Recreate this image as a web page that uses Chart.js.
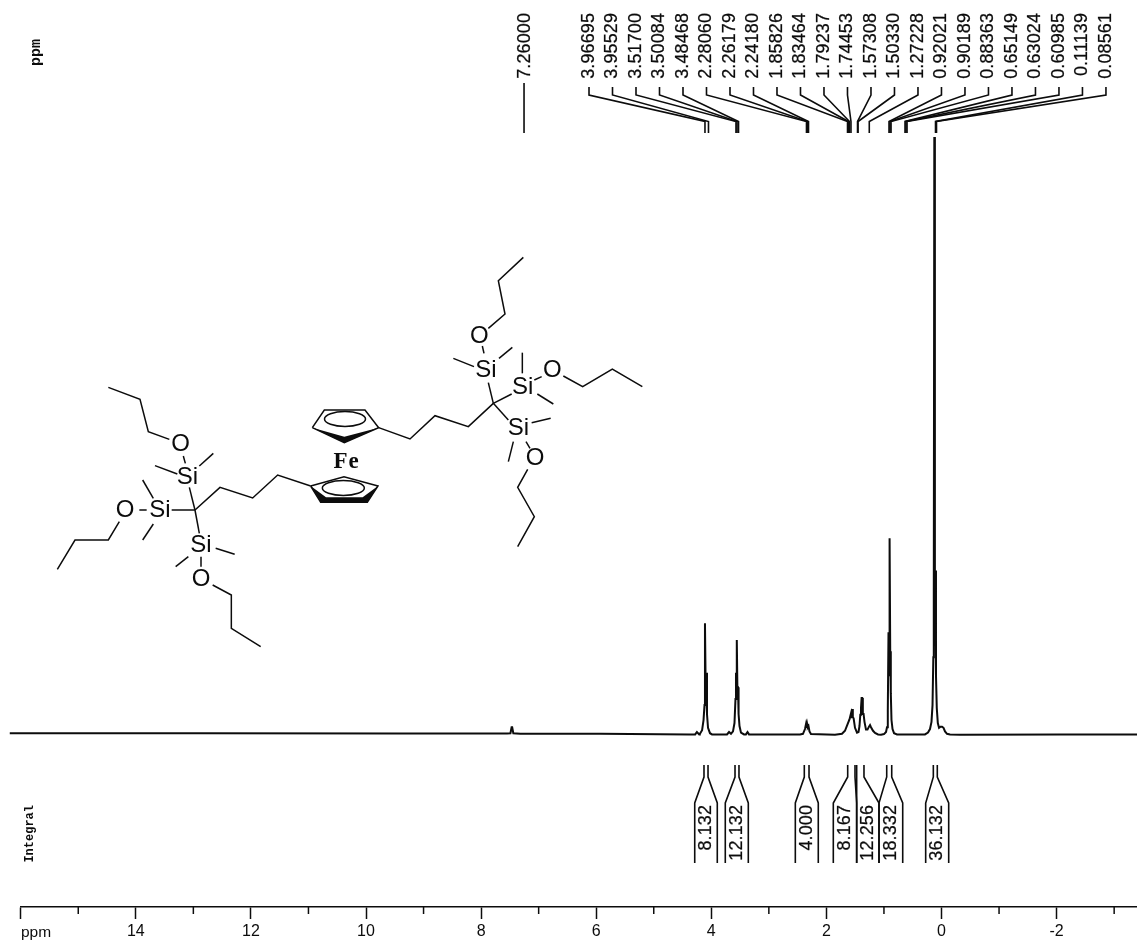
<!DOCTYPE html>
<html>
<head>
<meta charset="utf-8">
<style>html,body{margin:0;padding:0;background:#fff;overflow:hidden}canvas{display:block}</style>
<script src="https://cdn.jsdelivr.net/npm/chart.js@4"></script>
</head>
<body>
<canvas id="c" width="1137" height="941"></canvas>
<script>
// Spectrum: chemical shift axis position (ppm) and intensity (tallest peak = 100)
const spectrumPpm = [16.19,12.88,9.41,7.55,7.49,7.47,7.46,7.45,7.44,7.32,5.93,4.37,4.28,4.25,4.21,4.20,4.16,4.135,4.118,4.110,4.099,4.089,4.075,4.057,4.023,3.988,
  3.762,3.727,3.692,3.658,3.623,3.597,3.580,3.571,3.564,3.557,3.547,3.536,3.526,3.510,3.484,3.432,3.398,3.371,3.345,
  2.806,2.459,2.407,2.372,2.354,2.344,2.334,2.323,2.311,2.294,2.268,
  1.851,1.729,1.677,1.625,1.599,1.573,1.564,1.555,1.541,1.527,1.503,1.468,1.442,1.425,1.411,1.399,1.388,1.378,1.367,1.354,1.338,1.312,1.286,1.260,1.242,1.225,1.190,1.155,1.103,1.051,
  0.999,0.964,0.947,0.933,0.921,0.912,0.902,0.891,0.881,0.869,0.851,0.825,0.773,0.547,0.287,
  0.235,0.200,0.174,0.156,0.142,0.134,0.125,0.115,0.106,0.096,0.082,0.064,0.043,0.017,-0.009,-0.035,-0.061,-0.096,-0.148,-0.321,-2.06,-3.40];
const spectrumIntensity = [0.3,0.3,0.25,0.25,0.3,1.3,1.3,1.3,0.3,0.2,0.2,0.1,0.1,0.5,0.1,0.15,0.8,2.5,5,18.7,9,10.4,3.5,1.2,0.3,0.1,
  0.1,0.1,0.5,0.2,0.6,2,6,10.4,6,15.9,8,8,3.5,1.5,0.4,0.1,0.1,0.5,0.1,
  0.1,0.1,0.2,1.0,1.84,1.2,1.84,1.3,1.5,0.6,0.15,
  0.05,0.2,0.7,2,2.6,3.6,2.8,4.35,3,2.8,1.2,0.4,0.5,1.5,3.4,4.5,6.2,6.2,3.5,3.5,2.2,0.9,0.9,1.4,1.67,1.3,0.7,0.35,0.1,0.05,
  0.15,0.5,1.3,4,17.2,10,32.9,14,7,2.5,1,0.3,0.1,0.1,0.1,
  0.4,1,2.2,5,13,24.5,100,24,27.5,10,4.5,2,1.2,1.4,1.4,1.2,0.6,0.2,0.1,0.05,0.1,0.1];

// Peak list printed above the spectrum, and where each leader lands on the axis
const solventLabel = "7.26000";
const solventStemPpm = 7.254;
const peakLabels = ["3.96695","3.95529","3.51700","3.50084","3.48468","2.28060","2.26179","2.24180","1.85826","1.83464","1.79237","1.74453","1.57308","1.50330","1.27228","0.92021","0.90189","0.88363","0.65149","0.63024","0.60985","0.11139","0.08561"];
const peakStemPpm = [4.110,4.049,3.571,3.553,3.527,2.346,2.328,2.311,1.633,1.616,1.599,1.573,1.459,1.450,1.255,0.912,0.895,0.877,0.634,0.617,0.599,0.104,0.087];

// Integral regions
const integralLabels = ["8.132","12.132","4.000","8.167","12.256","18.332","36.132"];
const integralInnerLeft = [4.127,3.588,2.384,1.630,1.474,0.952,0.142];
const integralInnerRight = [4.057,3.519,2.302,1.503,1.347,0.865,0.073];
const integralOuterLeft = [4.288,3.757,2.540,1.880,1.474,1.086,0.275];
const integralOuterRight = [3.896,3.357,2.141,1.474,1.086,0.674,-0.125];

// Axis range
const axisMaxPpm = 16;
const axisMinPpm = -3.397;

const INK = '#0c0c0c';
const PX_PER_UNIT = 5.98, BASE_Y = 735;
const yVal = py => (BASE_Y - py) / PX_PER_UNIT;

const SLOT_START = 6.125, SLOT_STEP = 0.4083;
const slotPpm = i => SLOT_START - i * SLOT_STEP;

const datasets = [];
datasets.push({
  data: spectrumPpm.map((x,i)=>({x, y: spectrumIntensity[i]})),
  borderColor: INK, borderWidth: 2, pointRadius: 0, tension: 0, clip: false
});
const thin = pts => ({data: pts, borderColor: INK, borderWidth: 1.6, pointRadius: 0, tension: 0, clip: false, borderJoinStyle:'miter'});
datasets.push(thin([{x:solventStemPpm,y:yVal(83)},{x:solventStemPpm,y:yVal(133)}]));
peakLabels.forEach((_,i)=>{
  const s = slotPpm(i), p = peakStemPpm[i];
  datasets.push(thin([{x:s,y:yVal(87)},{x:s,y:yVal(95)},{x:p,y:yVal(121.5)},{x:p,y:yVal(133)}]));
});
integralLabels.forEach((_,i)=>{
  [[integralInnerLeft,integralOuterLeft],[integralInnerRight,integralOuterRight]].forEach(([inn,out])=>{
    datasets.push(thin([{x:inn[i],y:yVal(765)},{x:inn[i],y:yVal(777)},{x:out[i],y:yVal(803)},{x:out[i],y:yVal(863)}]));
  });
});

function rotText(ctx, txt, x, y, font, align, spacing, weight){
  ctx.save();
  ctx.translate(x,y);
  ctx.rotate(-Math.PI/2);
  ctx.font = font;
  ctx.fillStyle = INK;
  ctx.strokeStyle = INK;
  ctx.textAlign = align;
  ctx.textBaseline = 'middle';
  ctx.letterSpacing = (spacing||0)+'px';
  ctx.fillText(txt,0,0);
  if (weight){ ctx.lineWidth = weight; ctx.strokeText(txt,0,0); }
  ctx.restore();
}

// Molecular structure inset, in sketch coordinates
function drawStructure(ctx){
  const L = (X,Y)=>[40+X/3, 370+Y/3];
  const R = (X,Y)=>[300+X/3, 240+Y/3];
  const path = (T, pts)=>{ctx.beginPath();pts.forEach((p,i)=>{const q=T(p[0],p[1]); i?ctx.lineTo(q[0],q[1]):ctx.moveTo(q[0],q[1]);});ctx.stroke();};
  const atom = (T,t,X,Y)=>{const q=T(X,Y);ctx.fillText(t,q[0],q[1]);};
  ctx.save();
  ctx.strokeStyle = INK; ctx.fillStyle = INK; ctx.lineWidth = 1.5; ctx.lineJoin='miter';
  const leftLines = [
    [[205,52],[300,88],[325,185],[388,208]],[[430,258],[436,280]],[[345,287],[412,312]],[[520,250],[478,288]],[[448,352],[465,420]],
    [[465,420],[540,352],[638,384],[713,315],[812,348]],[[395,420],[465,420]],[[298,420],[320,420]],[[308,330],[340,385]],[[308,510],[340,462]],
    [[238,455],[205,510],[105,510],[52,598]],[[465,420],[478,490]],[[527,535],[584,553]],[[407,590],[445,560]],[[483,560],[483,590]],
    [[518,645],[574,675],[574,775],[662,830]]
  ];
  const rightLines = [
    [[236,563],[330,597],[405,527],[505,560],[580,490]],[[580,490],[565,428]],[[460,355],[522,380]],[[637,322],[597,355]],[[552,340],[547,318]],
    [[565,265],[615,222],[595,122],[670,52]],[[580,490],[635,462]],[[667,338],[667,400]],[[712,462],[760,492]],[[703,420],[725,410]],
    [[790,408],[848,440],[937,387],[1027,440]],[[580,490],[625,540]],[[695,548],[752,535]],[[640,605],[625,665]],[[678,605],[690,625]],
    [[683,688],[653,742],[703,830],[653,920]]
  ];
  leftLines.forEach(l=>path(L,l));
  rightLines.forEach(l=>path(R,l));
  // lower ring
  path(L,[[812,348],[912,320],[1014,348],[982,397],[842,397],[812,348]]);
  ctx.beginPath();
  [[812,348],[842,397],[982,397],[1014,348],[968,382],[858,382]].forEach((p,i)=>{const q=L(p[0],p[1]);i?ctx.lineTo(q[0],q[1]):ctx.moveTo(q[0],q[1]);});
  ctx.closePath();ctx.fill();
  let c = L(910,354);
  ctx.beginPath();ctx.ellipse(c[0],c[1],21,7.5,0,0,Math.PI*2);ctx.stroke();
  // upper ring
  path(R,[[37,563],[73,510],[195,510],[236,563],[133,608],[37,563]]);
  ctx.beginPath();
  [[37,563],[133,608],[236,563],[133,590]].forEach((p,i)=>{const q=R(p[0],p[1]);i?ctx.lineTo(q[0],q[1]):ctx.moveTo(q[0],q[1]);});
  ctx.closePath();ctx.fill();
  c = R(135,537);
  ctx.beginPath();ctx.ellipse(c[0],c[1],20.5,7.5,0,0,Math.PI*2);ctx.stroke();
  // atoms
  ctx.textAlign='center';ctx.textBaseline='middle';
  ctx.font='24px "Liberation Sans"';
  [['O',422,222],['Si',442,322],['Si',360,422],['O',255,422],['Si',483,527],['O',483,628]].forEach(a=>atom(L,a[0],a[1],a[2]));
  [['Si',558,392],['O',538,290],['Si',668,442],['O',757,390],['Si',655,565],['O',705,655]].forEach(a=>atom(R,a[0],a[1],a[2]));
  ctx.font='bold 23px "Liberation Serif"';
  ctx.letterSpacing='1px';
  atom(R,'Fe',140,665);
  ctx.restore();
}

const annotate = {
  id:'annotate',
  afterDatasetsDraw(chart){
    const ctx = chart.ctx, xs = chart.scales.x;
    // minor ticks on odd ppm
    ctx.save();
    ctx.strokeStyle = INK; ctx.lineWidth = 1.5;
    xs.ticks.forEach(t=>{
      if (Math.abs(t.value % 2) === 1){
        const px = xs.getPixelForValue(t.value);
        ctx.beginPath();ctx.moveTo(px,xs.top);ctx.lineTo(px,xs.top+7);ctx.stroke();
      }
    });
    ctx.restore();
    // peak list
    const font = '18px "Liberation Sans"';
    rotText(ctx, solventLabel, xs.getPixelForValue(solventStemPpm)+1, 13, font, 'right', 0.1, 0.25);
    peakLabels.forEach((t,i)=>rotText(ctx,t,xs.getPixelForValue(slotPpm(i)),13,font,'right',0.1,0.25));
    // integrals
    integralLabels.forEach((t,i)=>{
      const px = (xs.getPixelForValue(integralOuterLeft[i])+xs.getPixelForValue(integralOuterRight[i]))/2;
      rotText(ctx,t,px,805,font,'right',0.1,0.25);
    });
    rotText(ctx,'ppm',36.5,39,'bold 15px "Liberation Mono"','right',0);
    rotText(ctx,'Integral',29.5,805,'bold 12px "Liberation Mono"','right',0);
    // left end of the axis caption
    ctx.save();
    ctx.font='15.5px "Liberation Sans"';ctx.fillStyle=INK;ctx.textAlign='left';ctx.textBaseline='alphabetic';
    ctx.fillText('ppm',21,936.5);
    ctx.restore();
    drawStructure(ctx);
  }
};

new Chart(document.getElementById('c'),{
  type:'line',
  data:{datasets},
  plugins:[annotate,{id:'bg',beforeDraw(ch){const c=ch.ctx;c.save();c.fillStyle='#fff';c.fillRect(0,0,ch.width,ch.height);c.restore();}}],
  options:{
    responsive:false, animation:false, devicePixelRatio:1,
    layout:{autoPadding:false,padding:{left:20.7,right:0,top:0,bottom:0}},
    plugins:{legend:{display:false},tooltip:{enabled:false},title:{display:false}},
    events:[],
    scales:{
      x:{
        type:'linear', reverse:true, min:axisMinPpm, max:axisMaxPpm, position:'bottom',
        afterFit(s){s.height=34;},
        border:{display:true,color:INK,width:1.5},
        grid:{drawOnChartArea:false,drawTicks:true,tickLength:12,tickWidth:1.5,
              tickColor:c=>(c.tick && Math.abs(c.tick.value%2)===1)?'rgba(0,0,0,0)':INK},
        ticks:{stepSize:1,includeBounds:false,autoSkip:false,maxRotation:0,minRotation:0,padding:3,color:INK,
               font:{family:'"Liberation Sans"',size:16},
               callback:v=>(v%2===0 && v<axisMaxPpm)?String(v):''}
      },
      y:{display:false,min:(BASE_Y-907)/PX_PER_UNIT,max:BASE_Y/PX_PER_UNIT}
    }
  }
});
</script>
</body>
</html>
